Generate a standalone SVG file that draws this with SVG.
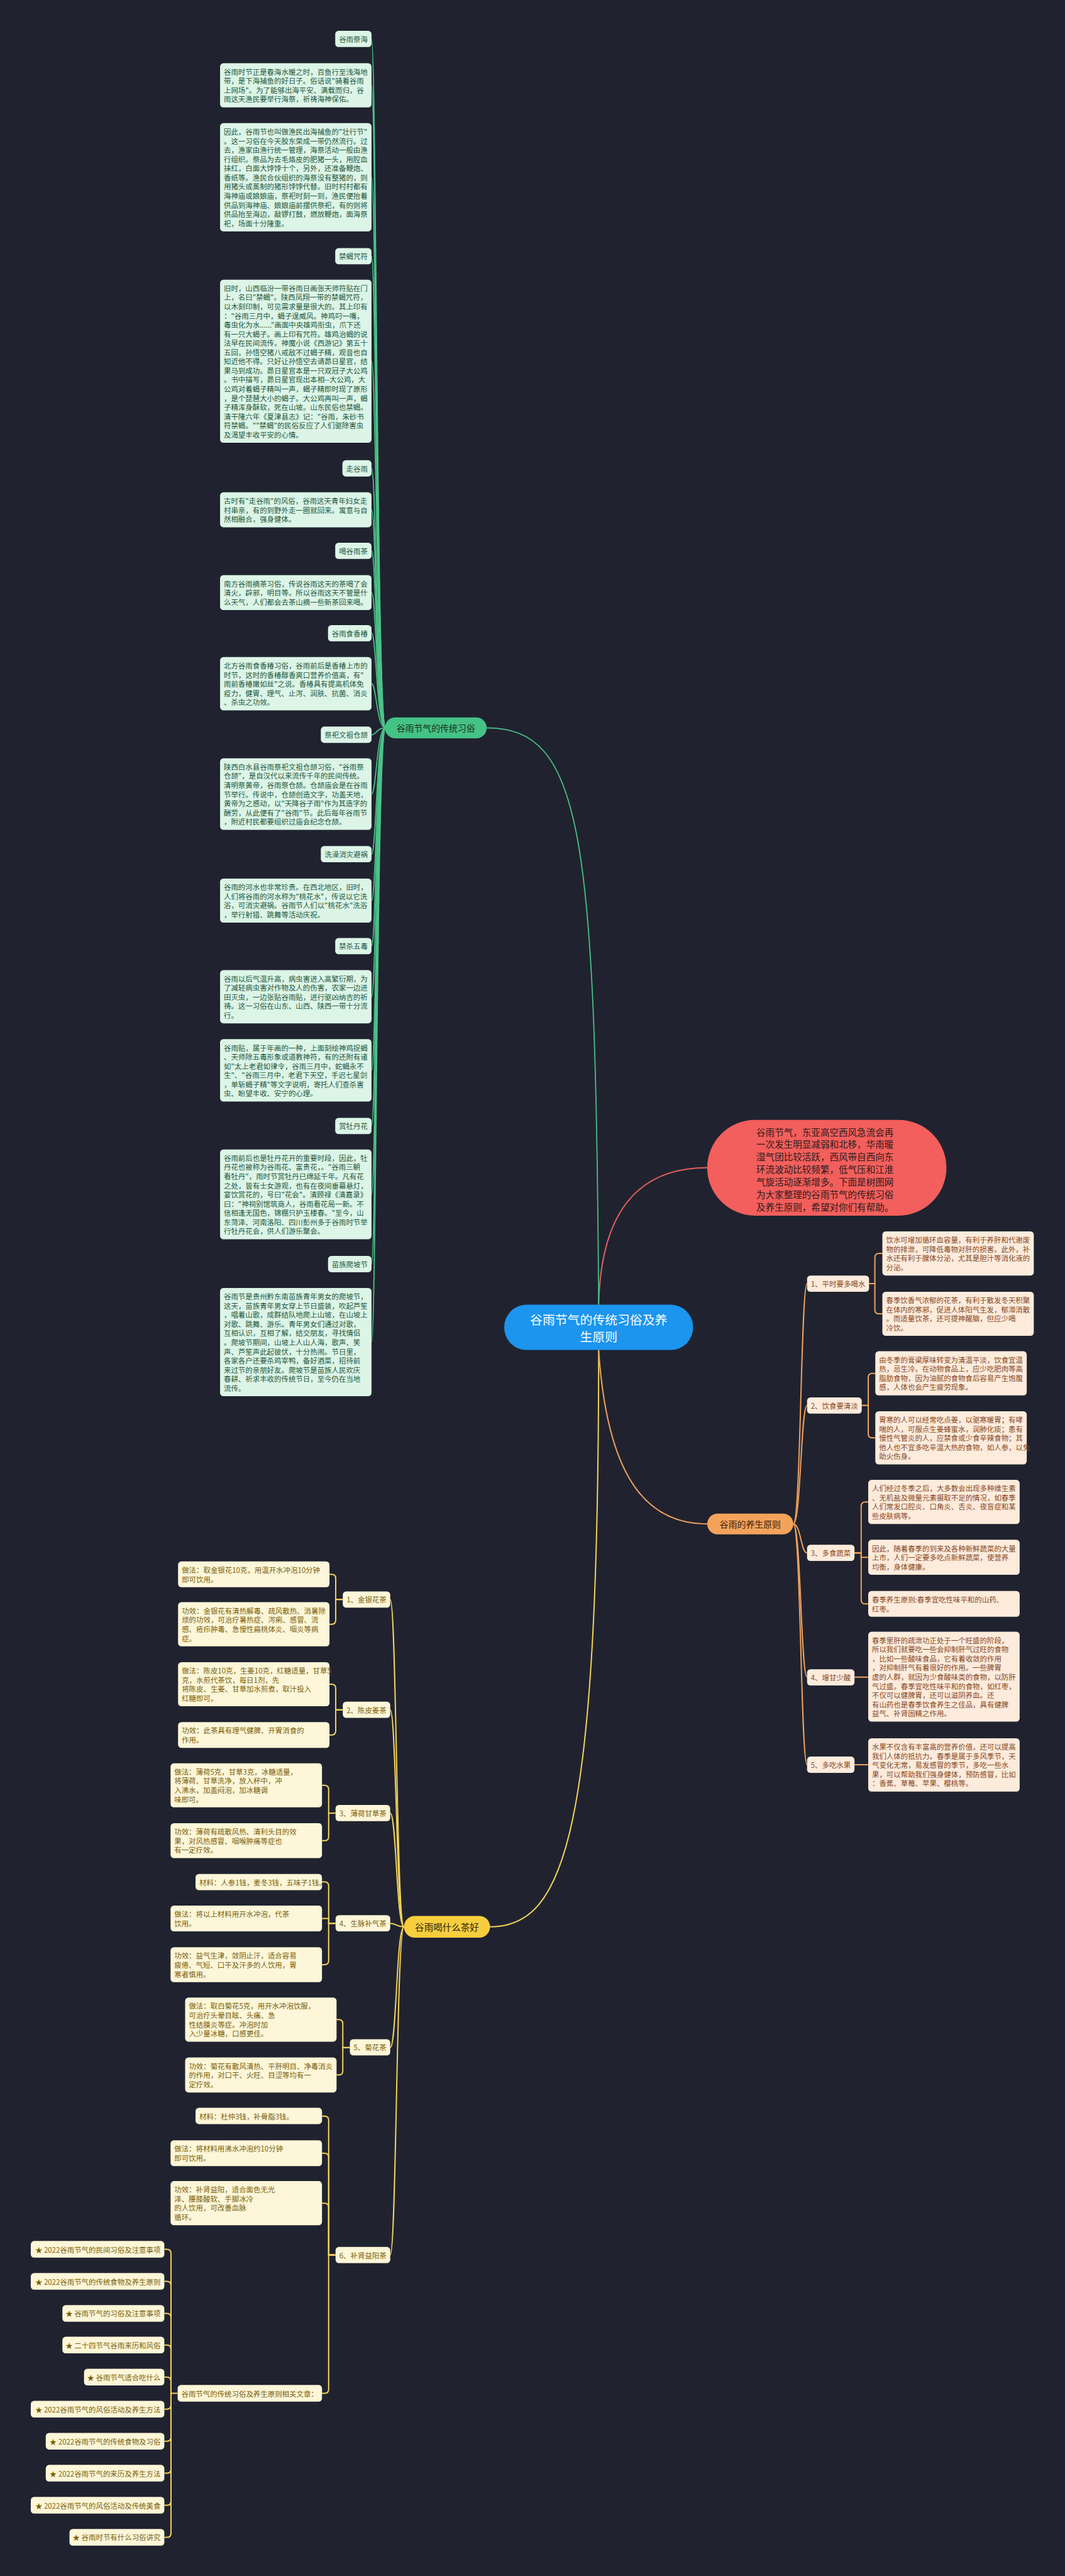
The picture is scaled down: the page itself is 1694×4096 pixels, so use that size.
<svg xmlns="http://www.w3.org/2000/svg" width="1694" height="4096" viewBox="0 0 1694 4096">
<style>
text{font-family:"Noto Sans CJK SC","Noto Sans",sans-serif;dominant-baseline:central}
.t{font-size:17.3px}
.gb{fill:#DCF5E7}.gt{fill:#24563C}
.ob{fill:#FDEBDC}.ot{fill:#86481E}
.yb{fill:#FDF6D8}.yt{fill:#7A5E0A}
.gl{fill:none;stroke:#4CC38A;stroke-width:2.6}
.ol{fill:none;stroke:#F0A25E;stroke-width:3}
.yl{fill:none;stroke:#F3D35B;stroke-width:3}
.rl{fill:none;stroke:#E5605E;stroke-width:3}
</style>
<rect width="1694" height="4096" fill="#20232F"/>
<g transform="scale(0.66172)">
<g id="connectors">
<path class="rl" d="M1439 3135 C1445 2880 1560 2806 1700 2806"/>
<path class="gl" d="M1439 3135 C1432 2000 1400 1749 1170 1749"/>
<path class="yl" d="M1439 3244 C1439 4400 1360 4630 1178 4630"/>
<path class="ol" d="M1439 3244 C1460 3560 1560 3662 1700 3662"/>
<g class="gl">
<path d="M927 1749 C905 1749 905 93.5 893 93.5"/>
<path d="M927 1749 C905 1749 905 205 893 205"/>
<path d="M927 1749 C905 1749 905 426 893 426"/>
<path d="M927 1749 C905 1749 905 615.5 893 615.5"/>
<path d="M927 1749 C905 1749 905 868 893 868"/>
<path d="M927 1749 C905 1749 905 1125.5 893 1125.5"/>
<path d="M927 1749 C905 1749 905 1225 893 1225"/>
<path d="M927 1749 C905 1749 905 1323.5 893 1323.5"/>
<path d="M927 1749 C905 1749 905 1424 893 1424"/>
<path d="M927 1749 C905 1749 905 1521.5 893 1521.5"/>
<path d="M927 1749 C905 1749 905 1643 893 1643"/>
<path d="M927 1749 C905 1749 905 1765.5 893 1765.5"/>
<path d="M927 1749 C905 1749 905 1908 893 1908"/>
<path d="M927 1749 C905 1749 905 2052.5 893 2052.5"/>
<path d="M927 1749 C905 1749 905 2164 893 2164"/>
<path d="M927 1749 C905 1749 905 2273.5 893 2273.5"/>
<path d="M927 1749 C905 1749 905 2395 893 2395"/>
<path d="M927 1749 C905 1749 905 2572 893 2572"/>
<path d="M927 1749 C905 1749 905 2705.5 893 2705.5"/>
<path d="M927 1749 C905 1749 905 2870 893 2870"/>
<path d="M927 1749 C905 1749 905 3037.5 893 3037.5"/>
<path d="M927 1749 C905 1749 905 3225 893 3225"/>
</g>
<g class="ol">
<path d="M1907 3662 C1925 3662 1925 3084.5 1940 3084.5"/>
<path d="M1907 3662 C1925 3662 1925 3377 1940 3377"/>
<path d="M1907 3662 C1925 3662 1925 3731.5 1940 3731.5"/>
<path d="M1907 3662 C1925 3662 1925 4030 1940 4030"/>
<path d="M1907 3662 C1925 3662 1925 4240.5 1940 4240.5"/>
<path d="M2089 3084.5 H2103 V3022 Q2103 3012 2113 3012 H2121"/>
<path d="M2089 3084.5 H2103 V3147 Q2103 3157 2113 3157 H2121"/>
<path d="M2072 3377 H2087 V3310 Q2087 3300 2097 3300 H2104"/>
<path d="M2072 3377 H2087 V3445 Q2087 3455 2097 3455 H2104"/>
<path d="M2054 3731.5 H2070 V3619 Q2070 3609 2080 3609 H2087"/>
<path d="M2054 3731.5 H2070 V3742 H2087"/>
<path d="M2054 3731.5 H2070 V3844 Q2070 3854 2080 3854 H2087"/>
<path d="M2054 4030 H2087"/>
<path d="M2054 4240.5 H2087"/>
</g>
<g class="yl">
<path d="M971 4630 C953 4630 953 3843.5 938 3843.5"/>
<path d="M971 4630 C953 4630 953 4108.5 938 4108.5"/>
<path d="M971 4630 C953 4630 953 4357 938 4357"/>
<path d="M971 4630 C953 4630 953 4621.5 938 4621.5"/>
<path d="M971 4630 C953 4630 953 4920 938 4920"/>
<path d="M971 4630 C953 4630 953 5418.5 938 5418.5"/>
<path d="M824 3843.5 H807 V3793 Q807 3783 797 3783 H792"/>
<path d="M824 3843.5 H807 V3893 Q807 3903 797 3903 H792"/>
<path d="M824 4108.5 H807 V4057 Q807 4047 797 4047 H792"/>
<path d="M824 4108.5 H807 V4159 Q807 4169 797 4169 H792"/>
<path d="M806 4357 H790 V4300 Q790 4290 780 4290 H774"/>
<path d="M806 4357 H790 V4413 Q790 4423 780 4423 H774"/>
<path d="M806 4621.5 H790 V4532 Q790 4522 780 4522 H774"/>
<path d="M806 4621.5 H790 V4610 H774"/>
<path d="M806 4621.5 H790 V4711 Q790 4721 780 4721 H774"/>
<path d="M841 4920 H824 V4863 Q824 4853 814 4853 H809"/>
<path d="M841 4920 H824 V4976 Q824 4986 814 4986 H809"/>
<path d="M806 5418.5 H790 V5095 Q790 5085 780 5085 H774"/>
<path d="M806 5418.5 H790 V5184 Q790 5174 780 5174 H774"/>
<path d="M806 5418.5 H790 V5304 Q790 5294 780 5294 H774"/>
<path d="M806 5418.5 H790 V5741 Q790 5751 780 5751 H774"/>
<path d="M427 5751 H411 V5415 Q411 5405 401 5405 H395"/>
<path d="M411 5751 V5492 Q411 5482 401 5482 H395"/>
<path d="M411 5751 V5569 Q411 5559 401 5559 H395"/>
<path d="M411 5751 V5645 Q411 5635 401 5635 H395"/>
<path d="M411 5751 V5722 Q411 5712 401 5712 H395"/>
<path d="M411 5751 V5779 Q411 5789 401 5789 H395"/>
<path d="M411 5751 V5856 Q411 5866 401 5866 H395"/>
<path d="M411 5751 V5933 Q411 5943 401 5943 H395"/>
<path d="M411 5751 V6010 Q411 6020 401 6020 H395"/>
<path d="M411 5751 V6087 Q411 6097 401 6097 H395"/>
</g>
</g>

<g id="root">
<rect x="1212" y="3135" width="454" height="109" rx="54" fill="#1B95EE"/>
<text x="1439" y="3170" font-size="30" fill="#FFFFFF" text-anchor="middle">谷雨节气的传统习俗及养</text>
<text x="1439" y="3210" font-size="30" fill="#FFFFFF" text-anchor="middle">生原则</text>
</g>

<g id="intro">
<rect x="1700" y="2691" width="575" height="230" rx="115" fill="#F25F5C"/>
<text x="1983" y="2718" font-size="22" fill="#2E1A1A" text-anchor="middle"><tspan x="1983">谷雨节气，东亚高空西风急流会再</tspan><tspan x="1983" dy="30">一次发生明显减弱和北移，华南暖</tspan><tspan x="1983" dy="30">湿气团比较活跃，西风带自西向东</tspan><tspan x="1983" dy="30">环流波动比较频繁，低气压和江淮</tspan><tspan x="1983" dy="30">气旋活动逐渐增多。下面是树图网</tspan><tspan x="1983" dy="30">为大家整理的谷雨节气的传统习俗</tspan><tspan x="1983" dy="30">及养生原则，希望对你们有帮助。</tspan></text>
</g>

<g id="customs">
<rect x="925" y="1724" width="245" height="50" rx="25" fill="#45C285"/>
<text x="1047.5" y="1749" font-size="21" fill="#17301F" text-anchor="middle">谷雨节气的传统习俗</text>
</g>

<g id="c-jihai">
<rect class="gb" x="805.8" y="74" width="87.2" height="39" rx="8"/>
<text class="t gt" x="849.4" y="93.5" text-anchor="middle">谷雨祭海</text>
<rect class="gb" x="529" y="152" width="364" height="106" rx="8"/>
<text class="t gt" x="538" y="172"><tspan x="538">谷雨时节正是春海水暖之时，百鱼行至浅海地</tspan><tspan x="538" dy="22">带，是下海捕鱼的好日子。俗话说"骑着谷雨</tspan><tspan x="538" dy="22">上网场"。为了能够出海平安、满载而归，谷</tspan><tspan x="538" dy="22">雨这天渔民要举行海祭，祈祷海神保佑。</tspan></text>
<rect class="gb" x="529" y="296" width="364" height="260" rx="8"/>
<text class="t gt" x="538" y="316"><tspan x="538">因此，谷雨节也叫做渔民出海捕鱼的"壮行节"</tspan><tspan x="538" dy="22">。这一习俗在今天胶东荣成一带仍然流行。过</tspan><tspan x="538" dy="22">去，渔家由渔行统一管理，海祭活动一般由渔</tspan><tspan x="538" dy="22">行组织。祭品为去毛烙皮的肥猪一头，用腔血</tspan><tspan x="538" dy="22">抹红，白面大饽饽十个，另外，还准备鞭炮、</tspan><tspan x="538" dy="22">香纸等。渔民合伙组织的海祭没有整猪的，则</tspan><tspan x="538" dy="22">用猪头或蒸制的猪形饽饽代替。旧时村村都有</tspan><tspan x="538" dy="22">海神庙或娘娘庙，祭祀时刻一到，渔民便抬着</tspan><tspan x="538" dy="22">供品到海神庙、娘娘庙前摆供祭祀，有的则将</tspan><tspan x="538" dy="22">供品抬至海边，敲锣打鼓，燃放鞭炮，面海祭</tspan><tspan x="538" dy="22">祀，场面十分隆重。</tspan></text>
</g>

<g id="c-jinxie">
<rect class="gb" x="805.8" y="596" width="87.2" height="39" rx="8"/>
<text class="t gt" x="849.4" y="615.5" text-anchor="middle">禁蝎咒符</text>
<rect class="gb" x="529" y="672" width="364" height="392" rx="8"/>
<text class="t gt" x="538" y="692"><tspan x="538">旧时，山西临汾一带谷雨日画张天师符贴在门</tspan><tspan x="538" dy="22">上，名曰"禁蝎"。陕西凤翔一带的禁蝎咒符，</tspan><tspan x="538" dy="22">以木刻印制，可见需求量是很大的。其上印有</tspan><tspan x="538" dy="22">："谷雨三月中，蝎子逞威风。神鸡叼一嘴，</tspan><tspan x="538" dy="22">毒虫化为水......"画面中央雄鸡衔虫，爪下还</tspan><tspan x="538" dy="22">有一只大蝎子。画上印有咒符。雄鸡治蝎的说</tspan><tspan x="538" dy="22">法早在民间流传。神魔小说《西游记》第五十</tspan><tspan x="538" dy="22">五回，孙悟空猪八戒敌不过蝎子精，观音也自</tspan><tspan x="538" dy="22">知近他不得。只好让孙悟空去请昴日星官，结</tspan><tspan x="538" dy="22">果马到成功。昴日星官本是一只双冠子大公鸡</tspan><tspan x="538" dy="22">。书中描写，昴日星官现出本相--大公鸡，大</tspan><tspan x="538" dy="22">公鸡对着蝎子精叫一声，蝎子精即时现了原形</tspan><tspan x="538" dy="22">，是个琵琶大小的蝎子。大公鸡再叫一声，蝎</tspan><tspan x="538" dy="22">子精浑身酥软，死在山坡。山东民俗也禁蝎。</tspan><tspan x="538" dy="22">清干隆六年《夏津县志》记："谷雨，朱砂书</tspan><tspan x="538" dy="22">符禁蝎。""禁蝎"的民俗反应了人们驱除害虫</tspan><tspan x="538" dy="22">及渴望丰收平安的心情。</tspan></text>
</g>

<g id="c-zouguyu">
<rect class="gb" x="823.1" y="1106" width="69.9" height="39" rx="8"/>
<text class="t gt" x="858" y="1125.5" text-anchor="middle">走谷雨</text>
<rect class="gb" x="529" y="1183" width="364" height="84" rx="8"/>
<text class="t gt" x="538" y="1203"><tspan x="538">古时有"走谷雨"的风俗，谷雨这天青年妇女走</tspan><tspan x="538" dy="22">村串亲，有的到野外走一圈就回来。寓意与自</tspan><tspan x="538" dy="22">然相融合，强身健体。</tspan></text>
</g>

<g id="c-tea">
<rect class="gb" x="805.8" y="1304" width="87.2" height="39" rx="8"/>
<text class="t gt" x="849.4" y="1323.5" text-anchor="middle">喝谷雨茶</text>
<rect class="gb" x="529" y="1382" width="364" height="84" rx="8"/>
<text class="t gt" x="538" y="1402"><tspan x="538">南方谷雨摘茶习俗，传说谷雨这天的茶喝了会</tspan><tspan x="538" dy="22">清火，辟邪，明目等。所以谷雨这天不管是什</tspan><tspan x="538" dy="22">么天气，人们都会去茶山摘一些新茶回来喝。</tspan></text>
</g>

<g id="c-xiangchun">
<rect class="gb" x="788.5" y="1502" width="104.5" height="39" rx="8"/>
<text class="t gt" x="840.7" y="1521.5" text-anchor="middle">谷雨食香椿</text>
<rect class="gb" x="529" y="1579" width="364" height="128" rx="8"/>
<text class="t gt" x="538" y="1599"><tspan x="538">北方谷雨食香椿习俗，谷雨前后是香椿上市的</tspan><tspan x="538" dy="22">时节，这时的香椿醇香爽口营养价值高，有"</tspan><tspan x="538" dy="22">雨前香椿嫩如丝"之说。香椿具有提高机体免</tspan><tspan x="538" dy="22">疫力，健胃、理气、止泻、润肤、抗菌、消炎</tspan><tspan x="538" dy="22">、杀虫之功效。</tspan></text>
</g>

<g id="c-cangjie">
<rect class="gb" x="771.2" y="1746" width="121.8" height="39" rx="8"/>
<text class="t gt" x="832.1" y="1765.5" text-anchor="middle">祭祀文祖仓颉</text>
<rect class="gb" x="529" y="1822" width="364" height="172" rx="8"/>
<text class="t gt" x="538" y="1842"><tspan x="538">陕西白水县谷雨祭祀文祖仓颉习俗，"谷雨祭</tspan><tspan x="538" dy="22">仓颉"，是自汉代以来流传千年的民间传统。</tspan><tspan x="538" dy="22">清明祭黄帝，谷雨祭仓颉。仓颉庙会是在谷雨</tspan><tspan x="538" dy="22">节举行。传说中，仓颉创造文字，功盖天地，</tspan><tspan x="538" dy="22">黄帝为之感动，以"天降谷子雨"作为其造字的</tspan><tspan x="538" dy="22">酬劳，从此便有了"谷雨"节。此后每年谷雨节</tspan><tspan x="538" dy="22">，附近村民都要组织过庙会纪念仓颉。</tspan></text>
</g>

<g id="c-xizao">
<rect class="gb" x="771.2" y="2033" width="121.8" height="39" rx="8"/>
<text class="t gt" x="832.1" y="2052.5" text-anchor="middle">洗澡消灾避祸</text>
<rect class="gb" x="529" y="2111" width="364" height="106" rx="8"/>
<text class="t gt" x="538" y="2131"><tspan x="538">谷雨的河水也非常珍贵。在西北地区，旧时，</tspan><tspan x="538" dy="22">人们将谷雨的河水称为"桃花水"，传说以它洗</tspan><tspan x="538" dy="22">浴，可消灾避祸。谷雨节人们以"桃花水"洗浴</tspan><tspan x="538" dy="22">，举行射猎、跳舞等活动庆祝。</tspan></text>
</g>

<g id="c-wudu">
<rect class="gb" x="805.8" y="2254" width="87.2" height="39" rx="8"/>
<text class="t gt" x="849.4" y="2273.5" text-anchor="middle">禁杀五毒</text>
<rect class="gb" x="529" y="2331" width="364" height="128" rx="8"/>
<text class="t gt" x="538" y="2351"><tspan x="538">谷雨以后气温升高，病虫害进入高繁衍期，为</tspan><tspan x="538" dy="22">了减轻病虫害对作物及人的伤害，农家一边进</tspan><tspan x="538" dy="22">田灭虫，一边张贴谷雨贴，进行驱凶纳吉的祈</tspan><tspan x="538" dy="22">祷。这一习俗在山东、山西、陕西一带十分流</tspan><tspan x="538" dy="22">行。</tspan></text>
<rect class="gb" x="529" y="2497" width="364" height="150" rx="8"/>
<text class="t gt" x="538" y="2517"><tspan x="538">谷雨贴，属于年画的一种，上面刻绘神鸡捉蝎</tspan><tspan x="538" dy="22">、天师除五毒形象或道教神符，有的还附有诸</tspan><tspan x="538" dy="22">如"太上老君如律令，谷雨三月中，蛇蝎永不</tspan><tspan x="538" dy="22">生"、"谷雨三月中，老君下天空，手迟七星剑</tspan><tspan x="538" dy="22">，单斩蝎子精"等文字说明，寄托人们查杀害</tspan><tspan x="538" dy="22">虫、盼望丰收、安宁的心理。</tspan></text>
</g>

<g id="c-mudan">
<rect class="gb" x="805.8" y="2686" width="87.2" height="39" rx="8"/>
<text class="t gt" x="849.4" y="2705.5" text-anchor="middle">赏牡丹花</text>
<rect class="gb" x="529" y="2762" width="364" height="216" rx="8"/>
<text class="t gt" x="538" y="2782"><tspan x="538">谷雨前后也是牡丹花开的重要时段，因此，牡</tspan><tspan x="538" dy="22">丹花也被称为谷雨花、富贵花，。"谷雨三朝</tspan><tspan x="538" dy="22">看牡丹"，雨时节赏牡丹已绵延千年。凡有花</tspan><tspan x="538" dy="22">之处，皆有士女游观，也有在夜间垂幕悬灯，</tspan><tspan x="538" dy="22">宴饮赏花的，号曰"花会"。清顾禄《清嘉录》</tspan><tspan x="538" dy="22">曰："神祠别馆筑商人，谷雨看花局一新。不</tspan><tspan x="538" dy="22">信相逢无国色，锦棚只护玉楼春。"至今，山</tspan><tspan x="538" dy="22">东菏泽、河南洛阳、四川彭州多于谷雨时节举</tspan><tspan x="538" dy="22">行牡丹花会，供人们游乐聚会。</tspan></text>
</g>

<g id="c-miaozu">
<rect class="gb" x="788.5" y="3018" width="104.5" height="39" rx="8"/>
<text class="t gt" x="840.7" y="3037.5" text-anchor="middle">苗族爬坡节</text>
<rect class="gb" x="529" y="3095" width="364" height="260" rx="8"/>
<text class="t gt" x="538" y="3115"><tspan x="538">谷雨节是贵州黔东南苗族青年男女的爬坡节，</tspan><tspan x="538" dy="22">这天，苗族青年男女穿上节日盛装，吹起芦笙</tspan><tspan x="538" dy="22">，唱着山歌，成群结队地爬上山坡，在山坡上</tspan><tspan x="538" dy="22">对歌、跳舞、游乐。青年男女们通过对歌，</tspan><tspan x="538" dy="22">互相认识，互相了解，结交朋友，寻找情侣</tspan><tspan x="538" dy="22">。爬坡节期间，山坡上人山人海，歌声、笑</tspan><tspan x="538" dy="22">声、芦笙声此起彼伏，十分热闹。节日里，</tspan><tspan x="538" dy="22">各家各户还要杀鸡宰鸭，备好酒菜，招待前</tspan><tspan x="538" dy="22">来过节的亲朋好友。爬坡节是苗族人民欢庆</tspan><tspan x="538" dy="22">春耕、祈求丰收的传统节日，至今仍在当地</tspan><tspan x="538" dy="22">流传。</tspan></text>
</g>

<g id="health">
<rect x="1700" y="3637" width="207" height="50" rx="25" fill="#F4A25A"/>
<text x="1803.5" y="3662" font-size="21" fill="#3A210E" text-anchor="middle">谷雨的养生原则</text>
</g>

<g id="h-1">
<rect class="ob" x="1940" y="3065" width="149" height="39" rx="8"/>
<text class="t ot" x="2014.5" y="3084.5" text-anchor="middle">1、平时要多喝水</text>
<rect class="ob" x="2121" y="2959" width="364" height="106" rx="8"/>
<text class="t ot" x="2130" y="2979"><tspan x="2130">饮水可增加循环血容量，有利于养肝和代谢废</tspan><tspan x="2130" dy="22">物的排泄，可降低毒物对肝的损害。此外，补</tspan><tspan x="2130" dy="22">水还有利于腺体分泌，尤其是胆汁等消化液的</tspan><tspan x="2130" dy="22">分泌。</tspan></text>
<rect class="ob" x="2121" y="3104" width="364" height="106" rx="8"/>
<text class="t ot" x="2130" y="3124"><tspan x="2130">春季饮香气浓郁的花茶，有利于散发冬天积聚</tspan><tspan x="2130" dy="22">在体内的寒邪，促进人体阳气生发，郁滞消散</tspan><tspan x="2130" dy="22">。而适量饮茶，还可提神醒脑，但应少喝</tspan><tspan x="2130" dy="22">冷饮。</tspan></text>
</g>

<g id="h-2">
<rect class="ob" x="1940" y="3358" width="131.4" height="39" rx="8"/>
<text class="t ot" x="2005.7" y="3377.5" text-anchor="middle">2、饮食要清淡</text>
<rect class="ob" x="2104" y="3247" width="364" height="106" rx="8"/>
<text class="t ot" x="2113" y="3267"><tspan x="2113">由冬季的膏粱厚味转变为清温平淡，饮食宜温</tspan><tspan x="2113" dy="22">热，忌生冷。在动物食品上，应少吃肥肉等高</tspan><tspan x="2113" dy="22">脂肪食物，因为油腻的食物食后容易产生饱腹</tspan><tspan x="2113" dy="22">感，人体也会产生疲劳现象。</tspan></text>
<rect class="ob" x="2104" y="3391" width="364" height="128" rx="8"/>
<text class="t ot" x="2113" y="3411"><tspan x="2113">胃寒的人可以经常吃点姜，以驱寒暖胃；有哮</tspan><tspan x="2113" dy="22">喘的人，可服点生姜蜂蜜水，润肺化痰；患有</tspan><tspan x="2113" dy="22">慢性气管炎的人，应禁食或少食辛辣食物；其</tspan><tspan x="2113" dy="22">他人也不宜多吃辛温大热的食物，如人参，以免</tspan><tspan x="2113" dy="22">助火伤身。</tspan></text>
</g>

<g id="h-3">
<rect class="ob" x="1940" y="3712" width="114" height="39" rx="8"/>
<text class="t ot" x="1997" y="3731.5" text-anchor="middle">3、多食蔬菜</text>
<rect class="ob" x="2087" y="3556" width="364" height="106" rx="8"/>
<text class="t ot" x="2096" y="3576"><tspan x="2096">人们经过冬季之后，大多数会出现多种维生素</tspan><tspan x="2096" dy="22">、无机盐及微量元素摄取不足的情况，如春季</tspan><tspan x="2096" dy="22">人们常发口腔炎、口角炎、舌炎、夜盲症和某</tspan><tspan x="2096" dy="22">些皮肤病等。</tspan></text>
<rect class="ob" x="2087" y="3700" width="364" height="84" rx="8"/>
<text class="t ot" x="2096" y="3720"><tspan x="2096">因此，随着春季的到来及各种新鲜蔬菜的大量</tspan><tspan x="2096" dy="22">上市，人们一定要多吃点新鲜蔬菜，使营养</tspan><tspan x="2096" dy="22">均衡，身体健康。</tspan></text>
<rect class="ob" x="2087" y="3823" width="364" height="62" rx="8"/>
<text class="t ot" x="2096" y="3843"><tspan x="2096">春季养生原则:春季宜吃性味平和的山药、</tspan><tspan x="2096" dy="22">红枣。</tspan></text>
</g>

<g id="h-4">
<rect class="ob" x="1940" y="4011" width="114" height="39" rx="8"/>
<text class="t ot" x="1997" y="4030.5" text-anchor="middle">4、增甘少酸</text>
<rect class="ob" x="2087" y="3921" width="364" height="216" rx="8"/>
<text class="t ot" x="2096" y="3941"><tspan x="2096">春季里肝的疏泄功正处于一个旺盛的阶段，</tspan><tspan x="2096" dy="22">所以我们就要吃一些会抑制肝气过旺的食物</tspan><tspan x="2096" dy="22">，比如一些酸味食品，它有着收敛的作用</tspan><tspan x="2096" dy="22">，对抑制肝气有着很好的作用。一些脾胃</tspan><tspan x="2096" dy="22">虚的人群，就因为少食酸味类的食物，以防肝</tspan><tspan x="2096" dy="22">气过盛。春季宜吃性味平和的食物，如红枣，</tspan><tspan x="2096" dy="22">不仅可以健脾胃，还可以滋阴养血。还</tspan><tspan x="2096" dy="22">有山药也是春季饮食养生之佳品，具有健脾</tspan><tspan x="2096" dy="22">益气、补肾固精之作用。</tspan></text>
</g>

<g id="h-5">
<rect class="ob" x="1940" y="4221" width="114" height="39" rx="8"/>
<text class="t ot" x="1997" y="4240.5" text-anchor="middle">5、多吃水果</text>
<rect class="ob" x="2087" y="4177" width="364" height="128" rx="8"/>
<text class="t ot" x="2096" y="4197"><tspan x="2096">水果不仅含有丰富高的营养价值，还可以提高</tspan><tspan x="2096" dy="22">我们人体的抵抗力。春季是属于多风季节，天</tspan><tspan x="2096" dy="22">气变化无常，易发感冒的季节，多吃一些水</tspan><tspan x="2096" dy="22">果，可以帮助我们强身健体，预防感冒，比如</tspan><tspan x="2096" dy="22">：香蕉、草莓、苹果、樱桃等。</tspan></text>
</g>

<g id="teas">
<rect x="971" y="4604" width="207" height="52" rx="26" fill="#F8CE3E"/>
<text x="1074.5" y="4630" font-size="22" fill="#2A2310" text-anchor="middle">谷雨喝什么茶好</text>
</g>

<g id="t-1">
<rect class="yb" x="824" y="3824" width="114" height="39" rx="8"/>
<text class="t yt" x="881" y="3843.5" text-anchor="middle">1、金银花茶</text>
<rect class="yb" x="428" y="3752" width="364" height="62" rx="8"/>
<text class="t yt" x="437" y="3772"><tspan x="437">做法：取金银花10克，用温开水冲泡10分钟</tspan><tspan x="437" dy="22">即可饮用。</tspan></text>
<rect class="yb" x="428" y="3850" width="364" height="106" rx="8"/>
<text class="t yt" x="437" y="3870"><tspan x="437">功效：金银花有清热解毒、疏风散热、消暑除</tspan><tspan x="437" dy="22">烦的功效，可治疗暑热症、泻痢、感冒、流</tspan><tspan x="437" dy="22">感、疮疖肿毒、急慢性扁桃体炎、咽炎等病</tspan><tspan x="437" dy="22">症。</tspan></text>
</g>

<g id="t-2">
<rect class="yb" x="824" y="4089" width="114" height="39" rx="8"/>
<text class="t yt" x="881" y="4108.5" text-anchor="middle">2、陈皮姜茶</text>
<rect class="yb" x="428" y="3994" width="364" height="106" rx="8"/>
<text class="t yt" x="437" y="4014"><tspan x="437">做法：陈皮10克，生姜10克，红糖适量，甘草5</tspan><tspan x="437" dy="22">克，水煎代茶饮，每日1剂，先</tspan><tspan x="437" dy="22">将陈皮、生姜、甘草加水煎煮，取汁投入</tspan><tspan x="437" dy="22">红糖即可。</tspan></text>
<rect class="yb" x="428" y="4138" width="364" height="62" rx="8"/>
<text class="t yt" x="437" y="4158"><tspan x="437">功效：此茶具有理气健脾、开胃消食的</tspan><tspan x="437" dy="22">作用。</tspan></text>
</g>

<g id="t-3">
<rect class="yb" x="806.6" y="4337" width="131.4" height="39" rx="8"/>
<text class="t yt" x="872.3" y="4356.5" text-anchor="middle">3、薄荷甘草茶</text>
<rect class="yb" x="410" y="4237" width="364" height="106" rx="8"/>
<text class="t yt" x="419" y="4257"><tspan x="419">做法：薄荷5克，甘草3克，冰糖适量，</tspan><tspan x="419" dy="22">将薄荷、甘草洗净，放入杯中，冲</tspan><tspan x="419" dy="22">入沸水，加盖闷泡，加冰糖调</tspan><tspan x="419" dy="22">味即可。</tspan></text>
<rect class="yb" x="410" y="4381" width="364" height="84" rx="8"/>
<text class="t yt" x="419" y="4401"><tspan x="419">功效：薄荷有疏散风热、清利头目的效</tspan><tspan x="419" dy="22">果，对风热感冒、咽喉肿痛等症也</tspan><tspan x="419" dy="22">有一定疗效。</tspan></text>
</g>

<g id="t-4">
<rect class="yb" x="806.6" y="4602" width="131.4" height="39" rx="8"/>
<text class="t yt" x="872.3" y="4621.5" text-anchor="middle">4、生脉补气茶</text>
<rect class="yb" x="470" y="4503" width="304" height="39" rx="8"/>
<text class="t yt" x="479" y="4522.5">材料：人参1钱，麦冬3钱，五味子1钱。</text>
<rect class="yb" x="410" y="4579" width="364" height="62" rx="8"/>
<text class="t yt" x="419" y="4599"><tspan x="419">做法：将以上材料用开水冲泡，代茶</tspan><tspan x="419" dy="22">饮用。</tspan></text>
<rect class="yb" x="410" y="4679" width="364" height="84" rx="8"/>
<text class="t yt" x="419" y="4699"><tspan x="419">功效：益气生津，敛阴止汗，适合容易</tspan><tspan x="419" dy="22">疲倦、气短、口干及汗多的人饮用，胃</tspan><tspan x="419" dy="22">寒者慎用。</tspan></text>
</g>

<g id="t-5">
<rect class="yb" x="841" y="4900" width="97" height="39" rx="8"/>
<text class="t yt" x="889.5" y="4919.5" text-anchor="middle">5、菊花茶</text>
<rect class="yb" x="445" y="4800" width="364" height="106" rx="8"/>
<text class="t yt" x="454" y="4820"><tspan x="454">做法：取白菊花5克，用开水冲泡饮服，</tspan><tspan x="454" dy="22">可治疗头晕目眩、头痛、急</tspan><tspan x="454" dy="22">性结膜炎等症。冲泡时加</tspan><tspan x="454" dy="22">入少量冰糖，口感更佳。</tspan></text>
<rect class="yb" x="445" y="4944" width="364" height="84" rx="8"/>
<text class="t yt" x="454" y="4964"><tspan x="454">功效：菊花有散风清热、平肝明目、净毒消炎</tspan><tspan x="454" dy="22">的作用，对口干、火旺、目涩等均有一</tspan><tspan x="454" dy="22">定疗效。</tspan></text>
</g>

<g id="t-6">
<rect class="yb" x="806.6" y="5399" width="131.4" height="39" rx="8"/>
<text class="t yt" x="872.3" y="5418.5" text-anchor="middle">6、补肾益阳茶</text>
<rect class="yb" x="470" y="5065" width="304" height="39" rx="8"/>
<text class="t yt" x="479" y="5084.5">材料：杜仲3钱，补骨脂3钱。</text>
<rect class="yb" x="410" y="5143" width="364" height="62" rx="8"/>
<text class="t yt" x="419" y="5163"><tspan x="419">做法：将材料用沸水冲泡约10分钟</tspan><tspan x="419" dy="22">即可饮用。</tspan></text>
<rect class="yb" x="410" y="5241" width="364" height="106" rx="8"/>
<text class="t yt" x="419" y="5261"><tspan x="419">功效：补肾益阳，适合面色无光</tspan><tspan x="419" dy="22">泽、腰膝酸软、手脚冰冷</tspan><tspan x="419" dy="22">的人饮用，可改善血脉</tspan><tspan x="419" dy="22">循环。</tspan></text>
</g>

<g id="related">
<rect class="yb" x="427" y="5731" width="347" height="40" rx="8"/>
<text class="t yt" x="436" y="5751">谷雨节气的传统习俗及养生原则相关文章：</text>
<rect class="yb" x="74" y="5385" width="321" height="40" rx="8"/>
<text class="t yt" x="386" y="5405" text-anchor="end">★ 2022谷雨节气的民间习俗及注意事项</text>
<rect class="yb" x="74" y="5462" width="321" height="40" rx="8"/>
<text class="t yt" x="386" y="5482" text-anchor="end">★ 2022谷雨节气的传统食物及养生原则</text>
<rect class="yb" x="150" y="5539" width="245" height="40" rx="8"/>
<text class="t yt" x="386" y="5559" text-anchor="end">★ 谷雨节气的习俗及注意事项</text>
<rect class="yb" x="150" y="5615" width="245" height="40" rx="8"/>
<text class="t yt" x="386" y="5635" text-anchor="end">★ 二十四节气谷雨来历和风俗</text>
<rect class="yb" x="202" y="5692" width="193" height="40" rx="8"/>
<text class="t yt" x="386" y="5712" text-anchor="end">★ 谷雨节气适合吃什么</text>
<rect class="yb" x="74" y="5769" width="321" height="40" rx="8"/>
<text class="t yt" x="386" y="5789" text-anchor="end">★ 2022谷雨节气的风俗活动及养生方法</text>
<rect class="yb" x="110" y="5846" width="285" height="40" rx="8"/>
<text class="t yt" x="386" y="5866" text-anchor="end">★ 2022谷雨节气的传统食物及习俗</text>
<rect class="yb" x="110" y="5923" width="285" height="40" rx="8"/>
<text class="t yt" x="386" y="5943" text-anchor="end">★ 2022谷雨节气的来历及养生方法</text>
<rect class="yb" x="74" y="6000" width="321" height="40" rx="8"/>
<text class="t yt" x="386" y="6020" text-anchor="end">★ 2022谷雨节气的风俗活动及传统美食</text>
<rect class="yb" x="167" y="6077" width="228" height="40" rx="8"/>
<text class="t yt" x="386" y="6097" text-anchor="end">★ 谷雨时节有什么习俗讲究</text>
</g>
</g>
</svg>
